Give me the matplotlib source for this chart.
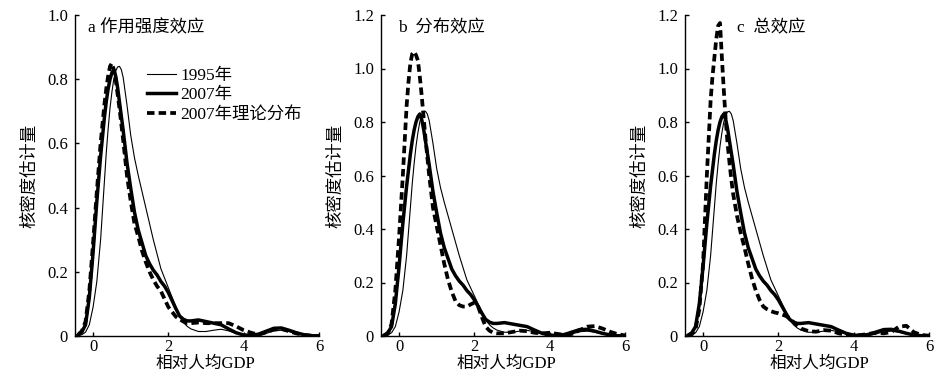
import matplotlib
matplotlib.use("Agg")
import matplotlib.pyplot as plt

plt.rcParams['font.family'] = ['Liberation Serif', 'Noto Sans CJK SC', 'DejaVu Sans']
plt.rcParams['axes.unicode_minus'] = False

# common x grid (relative per-capita GDP)
X = [-0.4, -0.3, -0.2, -0.1, 0.0, 0.1, 0.2, 0.25, 0.3, 0.35, 0.4, 0.45, 0.5, 0.55,
     0.6, 0.65, 0.7, 0.75, 0.8, 0.9, 1.0, 1.1, 1.2, 1.3, 1.4, 1.5, 1.6, 1.7, 1.8,
     1.9, 2.0, 2.1, 2.2, 2.3, 2.4, 2.5, 2.6, 2.8, 3.0, 3.2, 3.4, 3.6, 3.8, 4.0,
     4.2, 4.4, 4.6, 4.8, 5.0, 5.2, 5.4, 5.6, 5.8, 6.0]

kde_1995 = [0.001, 0.004, 0.012, 0.035, 0.09, 0.17, 0.30, 0.39, 0.48, 0.57, 0.645, 0.71, 0.76, 0.80,
            0.825, 0.838, 0.84, 0.83, 0.805, 0.72, 0.625, 0.555, 0.50, 0.45, 0.40, 0.35, 0.30, 0.255, 0.21,
            0.18, 0.15, 0.12, 0.09, 0.06, 0.042, 0.03, 0.022, 0.014, 0.014, 0.018, 0.021, 0.016, 0.008, 0.003,
            0.001, 0.002, 0.008, 0.016, 0.018, 0.014, 0.008, 0.003, 0.001, 0.0]

kde_2007 = [0.003, 0.012, 0.035, 0.12, 0.26, 0.42, 0.56, 0.62, 0.68, 0.73, 0.77, 0.80, 0.82, 0.83,
            0.81, 0.775, 0.73, 0.685, 0.64, 0.54, 0.46, 0.385, 0.33, 0.29, 0.25, 0.225, 0.205, 0.19, 0.17,
            0.155, 0.135, 0.11, 0.085, 0.062, 0.052, 0.047, 0.047, 0.05, 0.045, 0.04, 0.035, 0.022, 0.01, 0.003,
            0.002, 0.006, 0.015, 0.024, 0.025, 0.018, 0.01, 0.004, 0.001, 0.0]

kde_theory_a = [0.004, 0.015, 0.045, 0.14, 0.29, 0.45, 0.60, 0.66, 0.72, 0.77, 0.81, 0.84, 0.85, 0.83,
                0.80, 0.755, 0.71, 0.66, 0.61, 0.50, 0.42, 0.35, 0.31, 0.265, 0.23, 0.20, 0.175, 0.155, 0.14,
                0.115, 0.09, 0.075, 0.06, 0.052, 0.045, 0.04, 0.04, 0.042, 0.04, 0.04, 0.04, 0.04, 0.03, 0.018,
                0.01, 0.004, 0.012, 0.02, 0.022, 0.015, 0.008, 0.003, 0.001, 0.0]

kde_theory_b = [0.001, 0.008, 0.045, 0.17, 0.37, 0.60, 0.86, 0.95, 1.02, 1.055, 1.063, 1.05, 1.03, 0.97,
                0.90, 0.82, 0.74, 0.67, 0.60, 0.48, 0.41, 0.34, 0.27, 0.21, 0.165, 0.13, 0.115, 0.11, 0.11,
                0.118, 0.125, 0.11, 0.07, 0.035, 0.02, 0.012, 0.01, 0.01, 0.015, 0.02, 0.018, 0.012, 0.01, 0.012,
                0.008, 0.004, 0.008, 0.022, 0.035, 0.037, 0.028, 0.016, 0.007, 0.002]

kde_theory_c = [0.001, 0.006, 0.025, 0.10, 0.27, 0.60, 0.88, 0.97, 1.04, 1.11, 1.16, 1.17, 1.04, 0.92,
                0.81, 0.72, 0.65, 0.585, 0.53, 0.45, 0.385, 0.33, 0.27, 0.215, 0.17, 0.135, 0.11, 0.10, 0.093,
                0.088, 0.085, 0.08, 0.075, 0.065, 0.052, 0.04, 0.028, 0.018, 0.016, 0.022, 0.02, 0.01, 0.004, 0.002,
                0.004, 0.008, 0.012, 0.01, 0.015, 0.035, 0.038, 0.014, 0.004, 0.001]

panel_titles = ['a 作用强度效应', 'b  分布效应', 'c  总效应']
legend_labels = ['1995年', '2007年', '2007年理论分布']
xlabel = '相对人均GDP'
ylabel = '核密度估计量'
x_ticks = [0, 2, 4, 6]
y_ticks_a = [0, 0.2, 0.4, 0.6, 0.8, 1.0]
y_ticks_bc = [0, 0.2, 0.4, 0.6, 0.8, 1.0, 1.2]

theory = [kde_theory_a, kde_theory_b, kde_theory_c]
yticks_list = [y_ticks_a, y_ticks_bc, y_ticks_bc]
ylims = [1.0, 1.2, 1.2]
title_x = [0.053, 0.07, 0.214]
xlabel_x = [0.533, 0.512, 0.55]

fig = plt.figure(figsize=(9.41, 3.79), dpi=100)
W, H = 941, 379
lefts = [75, 381, 685]
FS = 12.5
for i in range(3):
    l = lefts[i]
    ax = fig.add_axes([l / W, (H - 336) / H, 244 / W, 321 / H])
    ax.plot(X, kde_1995, color='black', lw=0.8, label=legend_labels[0])
    ax.plot(X, kde_2007, color='black', lw=2.5, label=legend_labels[1])
    ax.plot(X, theory[i], color='black', lw=2.7, dashes=(2.0, 1.1), label=legend_labels[2])
    ax.set_xlim(-0.48, 6)
    ax.set_ylim(0, ylims[i])
    ax.set_xticks(x_ticks)
    ax.set_xticklabels([str(t) for t in x_ticks])
    yt = yticks_list[i]
    ax.set_yticks(yt)
    ax.set_yticklabels(['0' if t == 0 else f'{t:.1f}' for t in yt])
    for s in ['top', 'right']:
        ax.spines[s].set_visible(False)
    for s in ['left', 'bottom']:
        ax.spines[s].set_linewidth(1.0)
    ax.tick_params(direction='in', length=3, width=1, labelsize=12, pad=5)
    ax.tick_params(axis='x', pad=2)
    ax.set_xlabel(xlabel, fontsize=12)
    ax.xaxis.set_label_coords(xlabel_x[i], -0.062)
    ax.set_ylabel(ylabel, fontsize=FS)
    ax.yaxis.set_label_coords(-0.148, 0.5)
    ax.text(title_x[i], 0.96, panel_titles[i], transform=ax.transAxes, fontsize=FS,
            ha='left', va='center')
    if i == 0:
        ax.legend(loc='upper left', bbox_to_anchor=(0.295, 0.835), frameon=False,
                  fontsize=FS, handlelength=1.65, handletextpad=0.25, labelspacing=0.18,
                  borderpad=0, borderaxespad=0)

fig.savefig('out.png', dpi=100)
